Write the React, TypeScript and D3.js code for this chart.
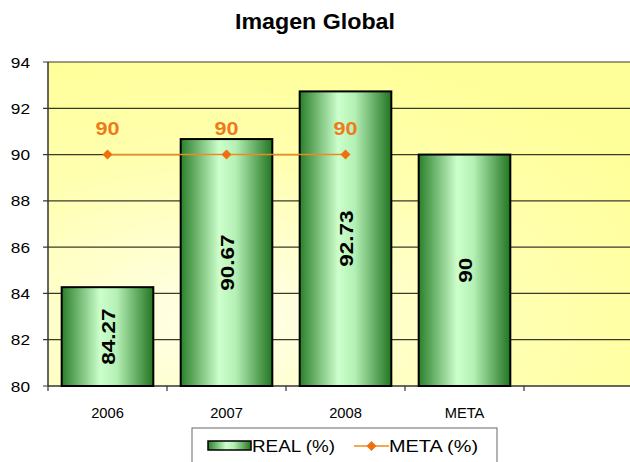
import React from "react";
import * as d3 from "d3";

const categories = ["2006", "2007", "2008", "META", ""];
const realValues = [84.27, 90.67, 92.73, 90];
const metaCategories = ["2006", "2007", "2008"];
const metaValues = [90, 90, 90];
const yTicks = [80, 82, 84, 86, 88, 90, 92, 94];

const W = 630;
const H = 462;
const plot = { left: 48, top: 62, bottom: 386, right: 643 };
const FONT = "'Liberation Sans', Arial, sans-serif";

// Text drawn with a slight horizontal stretch (wide chart typography)
function SText({
  x,
  y,
  sx = 1.15,
  rotate = 0,
  anchor = "start",
  size,
  bold = false,
  fill = "#000",
  children,
}: {
  x: number;
  y: number;
  sx?: number;
  rotate?: number;
  anchor?: "start" | "middle" | "end";
  size: number;
  bold?: boolean;
  fill?: string;
  children: React.ReactNode;
}) {
  return (
    <text
      transform={`translate(${x},${y}) rotate(${rotate}) scale(${sx},1)`}
      textAnchor={anchor}
      fontSize={size}
      fontWeight={bold ? "bold" : "normal"}
      fill={fill}
    >
      {children}
    </text>
  );
}

export default function App() {
  const x = d3
    .scaleBand<string>()
    .domain(categories)
    .range([plot.left, plot.right])
    .paddingInner(0.23)
    .paddingOuter(0.115);
  const step = x.step();
  const y = d3.scaleLinear().domain([80, 94]).range([plot.bottom, plot.top]);
  const center = (c: string) => (x(c) as number) + x.bandwidth() / 2;

  const metaLine = d3
    .line<number>()
    .x((_, i) => center(metaCategories[i]))
    .y((d) => y(d));

  const boundaries = d3.range(categories.length + 1).map((i) => plot.left + i * step);

  return (
    <svg
      width={W}
      height={H}
      style={{ position: "absolute", left: 0, top: 0, background: "#fff" }}
      fontFamily={FONT}
    >
      <defs>
        <radialGradient id="bg" cx="0.3" cy="0.8" r="0.85">
          <stop offset="0" stopColor="#ffffec" />
          <stop offset="0.6" stopColor="#ffffb0" />
          <stop offset="1" stopColor="#ffff99" />
        </radialGradient>
        <linearGradient id="barFill" x1="0" x2="1" y1="0" y2="0">
          <stop offset="0" stopColor="#2a7f2a" />
          <stop offset="0.42" stopColor="#ccffcc" />
          <stop offset="0.6" stopColor="#b5f0b5" />
          <stop offset="1" stopColor="#227522" />
        </linearGradient>
        <clipPath id="clip">
          <rect x={0} y={0} width={W} height={H} />
        </clipPath>
      </defs>

      <text x={315} y={29} textAnchor="middle" fontSize={22} fontWeight="bold" fill="#000"
        textLength={160} lengthAdjust="spacingAndGlyphs">
        Imagen Global
      </text>

      <g clipPath="url(#clip)">
        <rect
          x={plot.left}
          y={plot.top}
          width={plot.right - plot.left}
          height={plot.bottom - plot.top}
          fill="url(#bg)"
        />
        {yTicks.map((t) => (
          <line
            key={t}
            x1={plot.left - 5}
            x2={plot.right}
            y1={y(t)}
            y2={y(t)}
            stroke="#3a3a2a"
            strokeWidth={1.2}
          />
        ))}
      </g>

      {/* axes */}
      <line x1={plot.left} x2={plot.left} y1={plot.top} y2={plot.bottom} stroke="#333" strokeWidth={1.5} />
      <line x1={plot.left} x2={W} y1={plot.bottom} y2={plot.bottom} stroke="#333" strokeWidth={1.2} />
      {boundaries.map((bx, i) => (
        <line key={i} x1={bx} x2={bx} y1={plot.bottom} y2={plot.bottom + 5} stroke="#333" strokeWidth={1.2} />
      ))}
      {yTicks.map((t) => (
        <SText key={t} x={30} y={y(t) + 5.5} anchor="end" size={15}>
          {t}
        </SText>
      ))}
      {categories.map((c) =>
        c ? (
          <SText key={c} x={center(c)} y={418} anchor="middle" size={14} sx={1.05}>
            {c}
          </SText>
        ) : null
      )}

      {/* REAL bars */}
      {realValues.map((v, i) => {
        const c = categories[i];
        const bx = x(c) as number;
        const top = y(v);
        const mid = (top + plot.bottom) / 2;
        return (
          <g key={c}>
            <rect
              x={bx}
              y={top}
              width={x.bandwidth()}
              height={plot.bottom - top}
              fill="url(#barFill)"
              stroke="#000"
              strokeWidth={2}
            />
            <SText x={center(c) + 7} y={mid} rotate={-90} anchor="middle" size={18} bold sx={1.25}>
              {v}
            </SText>
          </g>
        );
      })}

      {/* META line */}
      <path d={metaLine(metaValues) || ""} fill="none" stroke="#f08a1c" strokeWidth={1.5} />
      {metaValues.map((v, i) => {
        const cx = center(metaCategories[i]);
        const cy = y(v);
        return (
          <g key={i}>
            <path d={`M${cx},${cy - 5}L${cx + 5},${cy}L${cx},${cy + 5}L${cx - 5},${cy}Z`} fill="#f07010" />
            <SText x={cx} y={cy - 20} anchor="middle" size={18} bold sx={1.2} fill="#ef7a1a">
              {v}
            </SText>
          </g>
        );
      })}

      {/* legend */}
      <rect x={192} y={428} width={305} height={44} fill="#fff" stroke="#666" strokeWidth={1} />
      <rect x={208} y={441} width={43} height={9} fill="url(#barFill)" stroke="#000" strokeWidth={1.5} />
      <text x={252} y={452} fontSize={16} fill="#000" textLength={83} lengthAdjust="spacingAndGlyphs">
        REAL (%)
      </text>
      <line x1={354} x2={389} y1={446} y2={446} stroke="#f08a1c" strokeWidth={1.5} />
      <path d="M371.5,441L376.5,446L371.5,451L366.5,446Z" fill="#f07010" />
      <text x={389} y={452} fontSize={16} fill="#000" textLength={89} lengthAdjust="spacingAndGlyphs">
        META (%)
      </text>
    </svg>
  );
}
